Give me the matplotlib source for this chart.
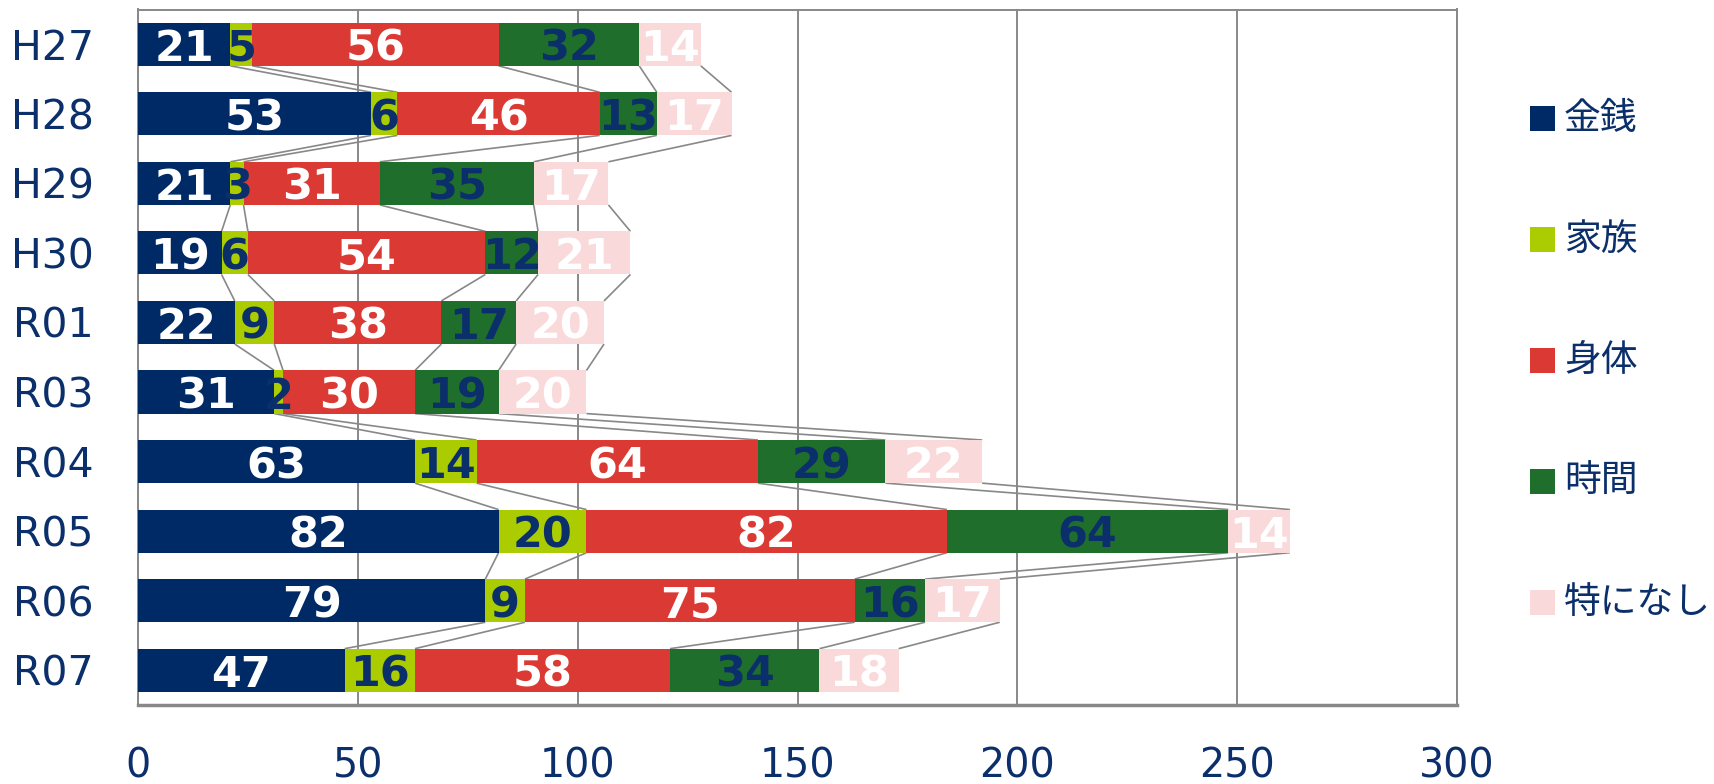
import matplotlib
matplotlib.use("Agg")
import matplotlib.pyplot as plt
from matplotlib.patches import Rectangle
import numpy as np

plt.rcParams['font.family'] = ['DejaVu Sans', 'Noto Sans CJK JP']

categories = ["H27", "H28", "H29", "H30", "R01", "R03", "R04", "R05", "R06", "R07"]
series_names = ["金銭", "家族", "身体", "時間", "特になし"]
money = [21, 53, 21, 19, 22, 31, 63, 82, 79, 47]
family = [5, 6, 3, 6, 9, 2, 14, 20, 9, 16]
body = [56, 46, 31, 54, 38, 30, 64, 82, 75, 58]
time_ = [32, 13, 35, 12, 17, 19, 29, 64, 16, 34]
none_ = [14, 17, 17, 21, 20, 20, 22, 14, 17, 18]
x_ticks = [0, 50, 100, 150, 200, 250, 300]

colors = ["#002A66", "#AACC00", "#DA3A33", "#1F6E2B", "#F9D9D9"]
label_colors = ["white", "#0B2F6B", "white", "#0B2F6B", "white"]
navy = "#0B2F6B"
grey = "#888888"

W, H = 1714, 784
data = np.array([money, family, body, time_, none_], dtype=float)
n = len(categories)
ypos = np.arange(n)
h = 0.62

fig = plt.figure(figsize=(W / 100, H / 100), dpi=100)
ax = fig.add_axes([138 / W, 1 - 705 / H, (1457 - 138) / W, (705 - 9.5) / H])

left = np.zeros(n)
cums = []
for k in range(len(series_names)):
    ax.barh(ypos, data[k], left=left, height=h, color=colors[k],
            label=series_names[k], zorder=3, linewidth=0)
    for i in range(n):
        ax.text(left[i] + data[k][i] / 2, ypos[i], f"{int(data[k][i])}",
                ha="center", va="center_baseline", fontsize=31, fontweight="bold",
                color=label_colors[k], zorder=5)
    left = left + data[k]
    cums.append(left.copy())

# series lines
for k in range(len(series_names)):
    c = cums[k]
    for i in range(n - 1):
        ax.plot([c[i], c[i + 1]], [ypos[i] + h / 2, ypos[i + 1] - h / 2],
                color=grey, lw=1.2, zorder=2, solid_capstyle="butt")

ax.set_xlim(0, 300)
ax.set_ylim(n - 0.5, -0.5)
ax.set_xticks(x_ticks)
ax.set_xticklabels([str(t) for t in x_ticks])
ax.set_yticks(ypos)
ax.set_yticklabels(categories)
ax.tick_params(axis="x", length=0, pad=30, labelsize=28.5, labelcolor=navy)
ax.tick_params(axis="y", length=0, pad=32, labelsize=29.5, labelcolor=navy)
ax.grid(axis="x", color=grey, lw=1.4, zorder=0)
ax.set_axisbelow(True)
for s in ax.spines.values():
    s.set_color(grey)
    s.set_linewidth(1.4)
ax.spines["bottom"].set_linewidth(2.5)

# legend (manual layout to match spacing)
for k, name in enumerate(series_names):
    yc = 118.5 + 121 * k
    fig.patches.append(Rectangle((1530 / W, 1 - (yc + 12.5) / H), 25 / W, 25 / H,
                                 transform=fig.transFigure, facecolor=colors[k],
                                 edgecolor="none"))
    fig.text(1564 / W, 1 - yc / H, name, ha="left", va="center", fontsize=26.5,
             color=navy, family=['Noto Sans CJK JP', 'DejaVu Sans'])

fig.savefig("out.png", dpi=100)
